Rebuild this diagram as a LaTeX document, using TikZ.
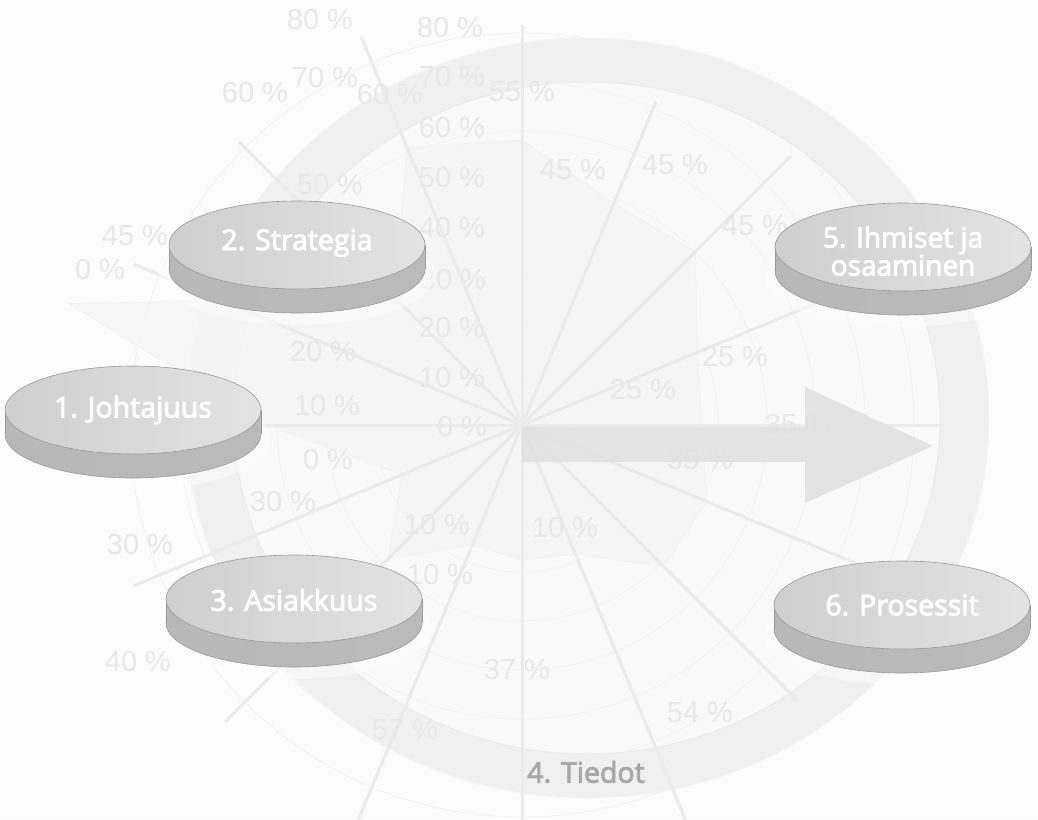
\documentclass[tikz,border=0pt]{standalone}
\usepackage{fontspec}
\setmainfont{Open Sans}
\newfontfamily\discfont[FakeBold=3]{Open Sans}
\newfontfamily\pctfont{Liberation Sans}
\usetikzlibrary{calc}
\begin{document}
\begin{tikzpicture}[x=1pt,y=-1pt,
  disctext/.style={text=white, font=\discfont\fontsize{28.5}{28.5}\selectfont, align=center, inner sep=0pt},
  pct/.style={text=black!9, font=\pctfont\fontsize{29}{29}\selectfont, inner sep=0pt},
  spoke/.style={draw=black!8, line width=3pt},
  gridline/.style={draw=black!5, line width=0.8pt},
  rim/.style={draw=black!40, line width=0.6pt},
  disc/.pic={
    % soft glow under the disc
    \fill[white, opacity=0.45] (0,30) ellipse [x radius=138, y radius=50];
    % side band
    \shadedraw[rim, left color=black!28, middle color=black!19, right color=black!27]
      (0,24) ellipse [x radius=128, y radius=44];
    \shade[left color=black!28, middle color=black!19, right color=black!27]
      (-128,0) rectangle (128,24);
    \draw[rim] (-128,0) -- (-128,24) (128,0) -- (128,24);
    % top face
    \shadedraw[rim, left color=black!19, middle color=black!13, right color=black!11]
      (0,0) ellipse [x radius=128, y radius=44];
  },
]
\useasboundingbox (0,0) rectangle (1038,819);
\fill[black!1] (0,0) rectangle (1038,819);

% large ring behind the chart
\fill[black!2.5] (587,418) ellipse [x radius=360, y radius=340];
\fill[black!6, even odd rule]
  (587,418) ellipse [x radius=402, y radius=380]
  (587,418) ellipse [x radius=353, y radius=336];
\draw[black!8, line width=1pt] (587,418) ellipse [x radius=353, y radius=336];
\draw[black!4, line width=1pt] (587,418) ellipse [x radius=402, y radius=380];

% radar chart: grid, filled series, axes
\coordinate (c) at (522,425);
\foreach \r in {49,98,...,392}
  \draw[gridline] (c) circle [radius=\r];
\fill[black!4, opacity=0.8, draw=black!7]
  ($(c)+(0:180)$) -- ($(c)+(-22.5:190)$) -- ($(c)+(-45:245)$) -- ($(c)+(-67.5:240)$)
  -- ($(c)+(-90:285)$) -- ($(c)+(-112.5:300)$) -- ($(c)+(-135:180)$) -- ($(c)+(-165:470)$)
  -- ($(c)+(-180:255)$) -- ($(c)+(-202.5:130)$) -- ($(c)+(-225:190)$) -- ($(c)+(-247.5:130)$)
  -- ($(c)+(-270:135)$) -- ($(c)+(-292.5:140)$) -- ($(c)+(-315:200)$) -- ($(c)+(-337.5:200)$)
  -- cycle;
\foreach \a/\l in {0/420,22.5/400,45/390,67.5/440,90/430,112.5/440,135/420,157.5/420,
                   180/420,202.5/420,225/400,247.5/420,270/400,292.5/350,315/380,337.5/360}
  \draw[spoke] (c) -- ++(\a:\l);

% axis scale labels
\foreach \p/\t in {
  {(320,20)}/80 \%, {(450,28)}/80 \%, {(325,78)}/70 \%, {(452,77)}/70 \%,
  {(255,93)}/60 \%, {(390,95)}/60 \%, {(452,128)}/60 \%, {(522,92)}/55 \%,
  {(330,185)}/50 \%, {(452,178)}/50 \%, {(573,170)}/45 \%, {(675,165)}/45 \%,
  {(755,226)}/45 \%, {(135,236)}/45 \%, {(100,270)}/0 \%, {(452,228)}/40 \%,
  {(453,280)}/30 \%, {(452,328)}/20 \%, {(452,378)}/10 \%, {(462,427)}/0 \%,
  {(323,352)}/20 \%, {(327,406)}/10 \%, {(328,460)}/0 \%, {(283,502)}/30 \%,
  {(140,545)}/30 \%, {(437,525)}/10 \%, {(440,575)}/10 \%, {(565,528)}/10 \%,
  {(517,670)}/37 \%, {(700,713)}/54 \%, {(138,662)}/40 \%, {(405,730)}/57 \%,
  {(735,357)}/25 \%, {(643,390)}/25 \%, {(798,425)}/35 \%, {(700,460)}/35 \%}
  \node[pct] at \p {\t};

% development arrow
\fill[black!12, opacity=0.85] (522,427) -- (805,427) -- (805,387) -- (933,446)
  -- (805,503) -- (805,462) -- (522,462) -- cycle;

% the five discs
\pic at (133,410) {disc};
\pic at (297,245) {disc};
\pic at (294,599) {disc};
\pic at (903,247) {disc};
\pic at (902,605) {disc};

\node[disctext] (johtajuus) at (133,410) {1. Johtajuus};
\node[disctext] (strategia) at (297,243) {2. Strategia};
\node[disctext] (asiakkuus) at (294,600) {3. Asiakkuus};
\node[disctext, font=\discfont\fontsize{28}{28}\selectfont] (ihmiset) at (903,251) {5. Ihmiset ja\\osaaminen};
\node[disctext] (prosessit) at (902,605) {6. Prosessit};
\node[disctext, text=black!34] (tiedot) at (586,772) {4. Tiedot};
\end{tikzpicture}
\end{document}
